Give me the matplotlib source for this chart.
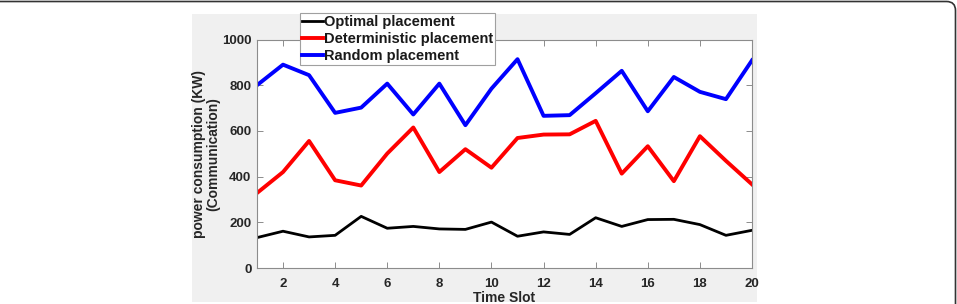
import numpy as np
import matplotlib
matplotlib.use('Agg')
import matplotlib.pyplot as plt
from matplotlib.patches import FancyBboxPatch, Rectangle
from matplotlib.transforms import IdentityTransform

plt.rcParams['font.family'] = ['Liberation Sans', 'DejaVu Sans']
plt.rcParams['font.weight'] = 'bold'

time_slot = np.arange(1, 21)
optimal = [133, 161, 136, 143, 226, 174, 182, 171, 169, 201,
           139, 158, 147, 220, 182, 212, 213, 190, 143, 165]
deterministic = [328, 420, 556, 384, 361, 501, 615, 420, 520, 439,
                 569, 584, 585, 644, 413, 533, 380, 577, 469, 366]
random_pl = [800, 890, 844, 679, 702, 807, 672, 807, 625, 785,
             914, 666, 669, 765, 863, 686, 836, 771, 739, 909]

labels = ['Optimal placement', 'Deterministic placement', 'Random placement']

fig = plt.figure(figsize=(9.57, 3.04), dpi=100)
fig.patch.set_facecolor('white')

# page frame (rounded box, only top and right visible)
frame = FancyBboxPatch((-30, -30), 985.5, 332.5, boxstyle='round,pad=0,rounding_size=9',
                       transform=IdentityTransform(), fill=False,
                       edgecolor='#333333', linewidth=1.2, zorder=-2)
fig.patches.append(frame)

# grey matlab figure background
fig.patches.append(Rectangle((0.2006, 0.0066), 0.590, 0.947, transform=fig.transFigure,
                             facecolor='#f0f0f0', edgecolor='none', zorder=-1))

ax = fig.add_axes([0.2685, 0.1184, 0.5173, 0.7516])
ax.set_facecolor('white')

ax.plot(time_slot, optimal, color='black', lw=2.0, label=labels[0])
ax.plot(time_slot, deterministic, color='#ff0000', lw=2.8, label=labels[1])
ax.plot(time_slot, random_pl, color='#0000ff', lw=2.8, label=labels[2])

ax.set_xlim(1, 20)
ax.set_ylim(0, 1000)
ax.set_xticks(np.arange(2, 21, 2))
ax.set_yticks(np.arange(0, 1001, 200))
ax.tick_params(direction='in', top=True, right=True, length=4, width=0.7,
               colors='#8c8c8c', labelcolor='#262626', labelsize=9.5, pad=4)
ax.tick_params(axis='x', pad=7)
for s in ax.spines.values():
    s.set_color('#8c8c8c')
    s.set_linewidth(0.8)
for t in ax.get_xticklabels() + ax.get_yticklabels():
    t.set_fontweight('bold')

ax.set_xlabel('Time Slot', fontsize=10, fontweight='bold', color='#262626', labelpad=1)
ax.set_ylabel('power consumption (KW)\n(Communication)', fontsize=10, fontweight='bold',
              color='#262626', labelpad=1, linespacing=1.05)

leg = fig.legend(loc='upper left', bbox_to_anchor=(0.3135, 0.957), fontsize=10.5,
                 frameon=True, fancybox=False, edgecolor='#a0a0a0', framealpha=1,
                 handlelength=1.4, handletextpad=0.1, borderpad=0.15, labelspacing=0.2,
                 borderaxespad=0)
leg.get_frame().set_linewidth(0.8)
for t in leg.get_texts():
    t.set_fontweight('bold')
    t.set_color('#1a1a1a')

plt.savefig('out.png', dpi=100)
